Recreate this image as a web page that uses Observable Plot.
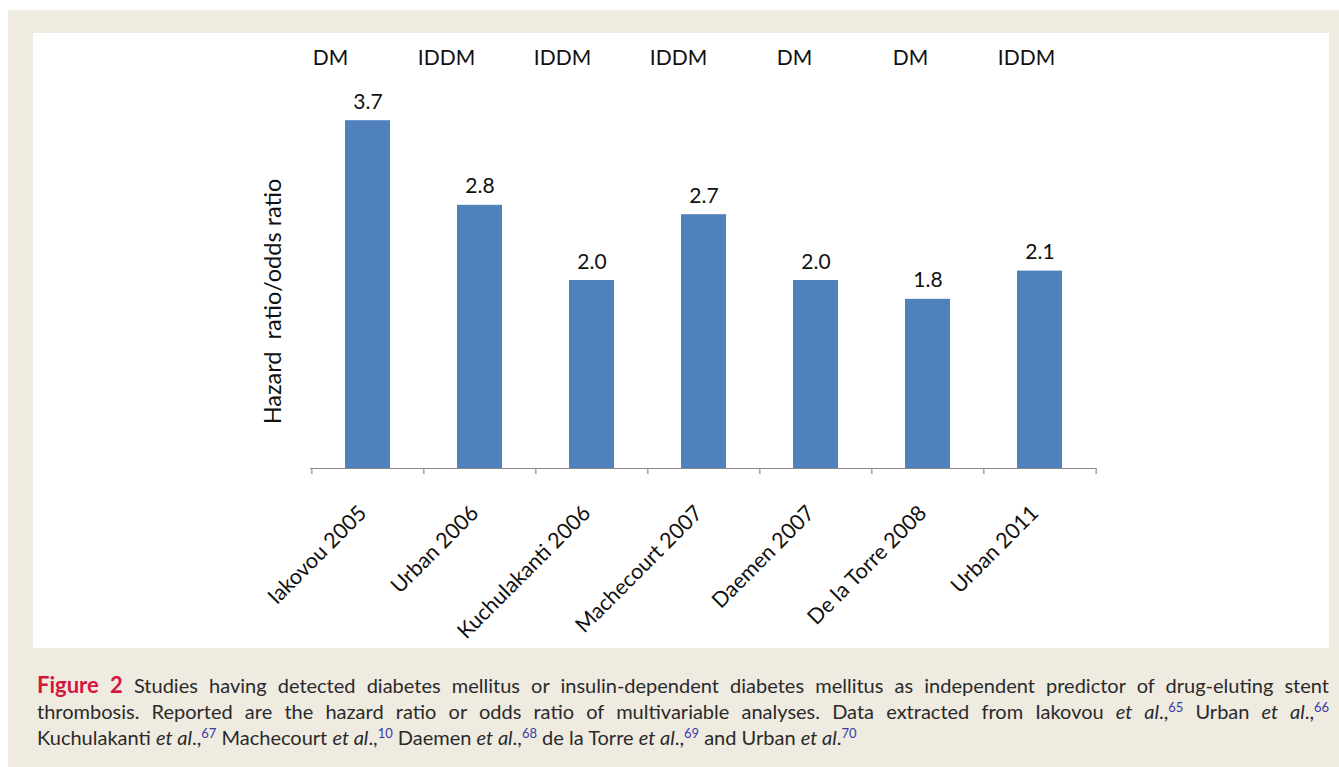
<!DOCTYPE html>
<html>
<head>
<meta charset="utf-8">
<script src="https://cdn.jsdelivr.net/npm/d3@7"></script>
<script src="https://cdn.jsdelivr.net/npm/@observablehq/plot@0.6"></script>
<style>
  body { margin:0; background:#fff; width:1339px; height:767px; overflow:hidden; }
  #bg { position:absolute; left:8px; top:10px; width:1331px; height:757px; background:#efebe1; }
  #panel { position:absolute; left:25px; top:23px; width:1296px; height:615px; background:#fff; }
  #panel svg { position:absolute; left:0; top:0; overflow:visible; }
  .cap { position:absolute; left:29px; width:1292px; font-family:Lato, sans-serif; font-size:20px; line-height:26px; color:#2a2a2a; white-space:nowrap; text-align:justify; text-align-last:justify; }
  .cap.last { text-align-last:left; }
  .cap b { color:#d4163f; font-size:22px; }
  .cap sup { color:#3a3aa6; font-size:13px; vertical-align:7px; line-height:0; }
</style>
</head>
<body>
<div id="bg">
  <div id="panel"></div>
  <div class="cap" style="top:662px"><b>Figure 2</b> Studies having detected diabetes mellitus or insulin-dependent diabetes mellitus as independent predictor of drug-eluting stent</div>
  <div class="cap" style="top:688px">thrombosis. Reported are the hazard ratio or odds ratio of multivariable analyses. Data extracted from Iakovou <i>et al</i>.,<sup>65</sup> Urban <i>et al</i>.,<sup>66</sup></div>
  <div class="cap last" style="top:714px">Kuchulakanti <i>et al</i>.,<sup>67</sup> Machecourt <i>et al</i>.,<sup>10</sup> Daemen <i>et al</i>.,<sup>68</sup> de la Torre <i>et al</i>.,<sup>69</sup> and Urban <i>et al</i>.<sup>70</sup></div>
</div>
<script>
const categories = ["Iakovou 2005","Urban 2006","Kuchulakanti 2006","Machecourt 2007","Daemen 2007","De la Torre 2008","Urban 2011"];
const ratios = [3.7, 2.8, 2.0, 2.7, 2.0, 1.8, 2.1];
const groups = ["DM","IDDM","IDDM","IDDM","DM","DM","IDDM"];
const yLabel = "Hazard\u00a0 ratio/odds ratio";

const data = categories.map((c, i) => ({study: c, ratio: ratios[i], group: groups[i]}));

const W = 1296, H = 615, ML = 277, MR = 233;
const step = (W - ML - MR) / categories.length;
const font = {fontFamily: "Lato, sans-serif", fontSize: "21px", color: "#111", background: "transparent", overflow: "visible"};

const chart = Plot.plot({
  width: W, height: H,
  marginLeft: ML, marginRight: MR, marginTop: 59, marginBottom: 180,
  style: font,
  x: {type: "band", domain: categories, paddingInner: 0.6, paddingOuter: 0.3},
  y: {domain: [0, 4], axis: null},
  marks: [
    Plot.barY(data, {x: "study", y: "ratio", fill: "#4f81bd"}),
    Plot.ruleY([0], {stroke: "#8a8a8a", strokeWidth: 1.2}),
    Plot.ruleX(categories, {x: d => d, dx: -step / 2, y1: () => 0, y2: () => 0, insetBottom: -6, stroke: "#8a8a8a", strokeWidth: 1.2}),
    Plot.ruleX(categories.slice(-1), {x: d => d, dx: step / 2, y1: () => 0, y2: () => 0, insetBottom: -6, stroke: "#8a8a8a", strokeWidth: 1.2}),
    Plot.text(data, {x: "study", y: "ratio", text: d => d.ratio.toFixed(1), lineAnchor: "bottom", dy: -12, fontSize: 21, fill: "#111"}),
    Plot.axisX({tickRotate: -45, tickSize: 0, tickPadding: 41, dx: -5, label: null, fontSize: 21.5, fill: "#111"}),
    Plot.text([yLabel], {frameAnchor: "left", rotate: -90, textAnchor: "middle", dx: -37, dy: 21, fontSize: 23.5, fill: "#111"})
  ]
});

const groupRow = Plot.plot({
  width: W, height: 50,
  marginLeft: 239, marginRight: 245, marginTop: 0, marginBottom: 0,
  style: font,
  x: {type: "band", domain: categories, padding: 0, axis: null},
  marks: [
    Plot.text(data, {x: "study", text: "group", frameAnchor: "middle", fontSize: 21, fill: "#111"})
  ]
});

const panel = document.getElementById("panel");
panel.appendChild(chart);
panel.appendChild(groupRow);
</script>
</body>
</html>
